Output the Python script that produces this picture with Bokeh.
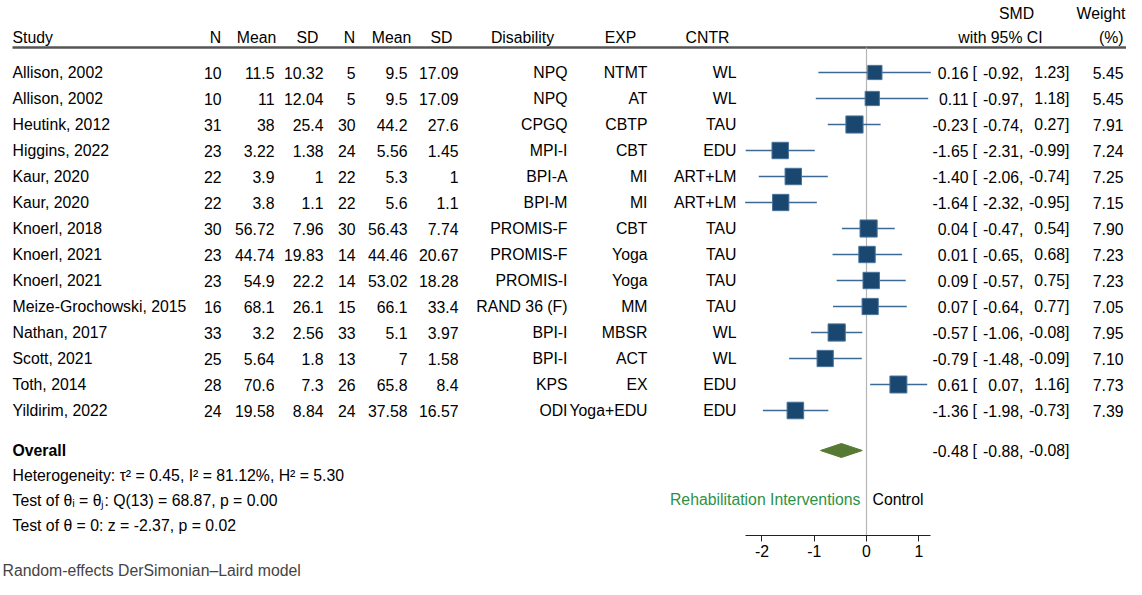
from bokeh.plotting import figure
from bokeh.models import Range1d, FixedTicker, Title, ColumnDataSource
from bokeh.core.properties import value
from bokeh.embed import file_html
from bokeh.resources import INLINE

# ---------------- data ----------------
studies = ["Allison, 2002", "Allison, 2002", "Heutink, 2012", "Higgins, 2022", "Kaur, 2020",
           "Kaur, 2020", "Knoerl, 2018", "Knoerl, 2021", "Knoerl, 2021", "Meize-Grochowski, 2015",
           "Nathan, 2017", "Scott, 2021", "Toth, 2014", "Yildirim, 2022"]
n_exp = [10, 10, 31, 23, 22, 22, 30, 23, 23, 16, 33, 25, 28, 24]
mean_exp = [11.5, 11, 38, 3.22, 3.9, 3.8, 56.72, 44.74, 54.9, 68.1, 3.2, 5.64, 70.6, 19.58]
sd_exp = [10.32, 12.04, 25.4, 1.38, 1, 1.1, 7.96, 19.83, 22.2, 26.1, 2.56, 1.8, 7.3, 8.84]
n_ctl = [5, 5, 30, 24, 22, 22, 30, 14, 14, 15, 33, 13, 26, 24]
mean_ctl = [9.5, 9.5, 44.2, 5.56, 5.3, 5.6, 56.43, 44.46, 53.02, 66.1, 5.1, 7, 65.8, 37.58]
sd_ctl = [17.09, 17.09, 27.6, 1.45, 1, 1.1, 7.74, 20.67, 18.28, 33.4, 3.97, 1.58, 8.4, 16.57]
disability = ["NPQ", "NPQ", "CPGQ", "MPI-I", "BPI-A", "BPI-M", "PROMIS-F", "PROMIS-F", "PROMIS-I",
              "RAND 36 (F)", "BPI-I", "BPI-I", "KPS", "ODI"]
exp_group = ["NTMT", "AT", "CBTP", "CBT", "MI", "MI", "CBT", "Yoga", "Yoga", "MM", "MBSR", "ACT",
             "EX", "Yoga+EDU"]
cntr_group = ["WL", "WL", "TAU", "EDU", "ART+LM", "ART+LM", "TAU", "TAU", "TAU", "TAU", "WL", "WL",
              "EDU", "EDU"]
smd = [0.16, 0.11, -0.23, -1.65, -1.40, -1.64, 0.04, 0.01, 0.09, 0.07, -0.57, -0.79, 0.61, -1.36]
ci_low = [-0.92, -0.97, -0.74, -2.31, -2.06, -2.32, -0.47, -0.65, -0.57, -0.64, -1.06, -1.48, 0.07, -1.98]
ci_high = [1.23, 1.18, 0.27, -0.99, -0.74, -0.95, 0.54, 0.68, 0.75, 0.77, -0.08, -0.09, 1.16, -0.73]
weight = [5.45, 5.45, 7.91, 7.24, 7.25, 7.15, 7.90, 7.23, 7.23, 7.05, 7.95, 7.10, 7.73, 7.39]

overall_smd = -0.48
overall_low = -0.88
overall_high = -0.08

header_cols = ["Study", "N", "Mean", "SD", "N", "Mean", "SD", "Disability", "EXP", "CNTR"]
stats_lines = ["Heterogeneity: \u03c4\u00b2 = 0.45, I\u00b2 = 81.12%, H\u00b2 = 5.30",
               "Test of \u03b8\u1d62 = \u03b8\u2c7c: Q(13) = 68.87, p = 0.00",
               "Test of \u03b8 = 0: z = -2.37, p = 0.02"]
axis_ticks = [-2, -1, 0, 1]
axis_tick_labels = ["-2", "-1", "0", "1"]
favours_left = "Rehabilitation Interventions"
favours_right = "Control"
footnote = "Random-effects DerSimonian\u2013Laird model"

# ---------------- layout helpers ----------------
W, H = 1126, 579
BELOW = 44                      # space under the frame (axis + footnote)
PX0, PXS = 866.0, 52.3          # x of SMD 0, pixels per SMD unit
ROW0, ROWH = 72.0, 26.0         # y of first study row, row height
FRAME_TOP, FRAME_BOT = 0.0, float(H - BELOW)


def xp(px):
    return (px - PX0) / PXS


def yp(py):
    return (py - ROW0) / ROWH


FONT = value("Liberation Sans")
FS = "15.8px"
BLUE = "#1a476f"
CI_BLUE = "#3d6a94"
GREEN = "#567a33"
TXT_GREEN = "#2f9146"

p = figure(width=W, height=H, output_backend="svg", toolbar_location=None,
           x_range=Range1d(xp(0), xp(W)),
           y_range=Range1d(yp(FRAME_BOT), yp(FRAME_TOP)),
           min_border_left=0, min_border_right=0, min_border_top=0,
           min_border_bottom=BELOW)
p.outline_line_color = None
p.grid.visible = False
p.yaxis.visible = False
p.background_fill_color = "white"

rows = list(range(len(studies)))
fmt = lambda v: f"{v:g}"


def col(texts, px, align, py_rows, style="normal", color="#000000"):
    src = ColumnDataSource(dict(x=[xp(px)] * len(texts), y=py_rows, t=texts))
    p.text(x="x", y="y", text="t", source=src, text_align=align, text_baseline="middle",
           text_font=FONT, text_font_size=FS, text_color=color, text_font_style=style)


# header
hy = yp(37)
col(["Study"], 12, "left", [hy])
for name, cx in zip(header_cols[1:], [215, 256, 307, 349, 391, 441, 522, 620, 707]):
    col([name], cx, "center", [hy])
col(["with 95% CI"], 1000, "center", [hy])
col(["SMD"], 1016, "center", [yp(13)])
col(["(%)"], 1123, "right", [hy])
col(["Weight"], 1125, "right", [yp(13)])
p.segment(x0=[xp(12)], y0=[yp(47)], x1=[xp(1131)], y1=[yp(47)], line_color="#555555", line_width=2.5)

# zero line
p.segment(x0=[0], y0=[yp(47)], x1=[0], y1=[yp(FRAME_BOT)], line_color="#b5b5b5", line_width=1.2)

# table columns
col(studies, 12, "left", rows)
col([str(v) for v in n_exp], 221, "right", rows)
col([fmt(v) for v in mean_exp], 274, "right", rows)
col([fmt(v) for v in sd_exp], 323, "right", rows)
col([str(v) for v in n_ctl], 355, "right", rows)
col([fmt(v) for v in mean_ctl], 407, "right", rows)
col([fmt(v) for v in sd_ctl], 458, "right", rows)
col(disability, 567, "right", rows)
col(exp_group, 647, "right", rows)
col(cntr_group, 736, "right", rows)

# estimates text
oy = yp(450)
all_rows = rows + [oy]
col([f"{v:.2f}" for v in smd + [overall_smd]], 968, "right", all_rows)
col(["["] * len(all_rows), 972, "left", all_rows)
col([f"{v:.2f}," for v in ci_low + [overall_low]], 1023, "right", all_rows)
col([f"{v:.2f}]" for v in ci_high + [overall_high]], 1069, "right", all_rows)
col([f"{v:.2f}" for v in weight], 1123, "right", rows)

# forest markers
src = ColumnDataSource(dict(y=rows, est=smd, lo=ci_low, hi=ci_high,
                            size=[6.1 * (w ** 0.5) for w in weight]))
p.segment(x0="lo", y0="y", x1="hi", y1="y", source=src, line_color=CI_BLUE, line_width=1.5)
p.scatter(x="est", y="y", size="size", marker="square", source=src,
          fill_color=BLUE, line_color="#4a739a", line_width=1)

# overall diamond
dh = 7.0 / ROWH
p.patch(x=[overall_low, overall_smd, overall_high, overall_smd],
        y=[oy, oy - dh, oy, oy + dh], fill_color=GREEN, line_color=GREEN, line_width=1)

# overall & stats text
col(["Overall"], 12, "left", [oy], style="bold")
col(stats_lines, 12, "left", [yp(475), yp(500), yp(525)])

# favours labels
col([favours_left], 860, "right", [yp(499)], color=TXT_GREEN)
col([favours_right], 872, "left", [yp(499)])

# axis
ax = p.xaxis[0]
ax.ticker = FixedTicker(ticks=axis_ticks)
ax.major_label_overrides = {t: s for t, s in zip(axis_ticks, axis_tick_labels)}
ax.bounds = (xp(745), xp(930))
ax.axis_line_color = "#222222"
ax.major_tick_line_color = "#222222"
ax.minor_tick_line_color = None
ax.major_tick_in = 0
ax.major_tick_out = 6
ax.major_label_standoff = 3
ax.major_label_text_font = "Liberation Sans"
ax.major_label_text_font_size = FS
ax.major_label_text_color = "#000000"

t = Title(text=footnote, align="left", text_font="Liberation Sans", text_font_size=FS,
          text_font_style="normal", standoff=0, offset=2)
p.add_layout(t, "below")

open("out.html", "w").write(file_html(p, INLINE))
